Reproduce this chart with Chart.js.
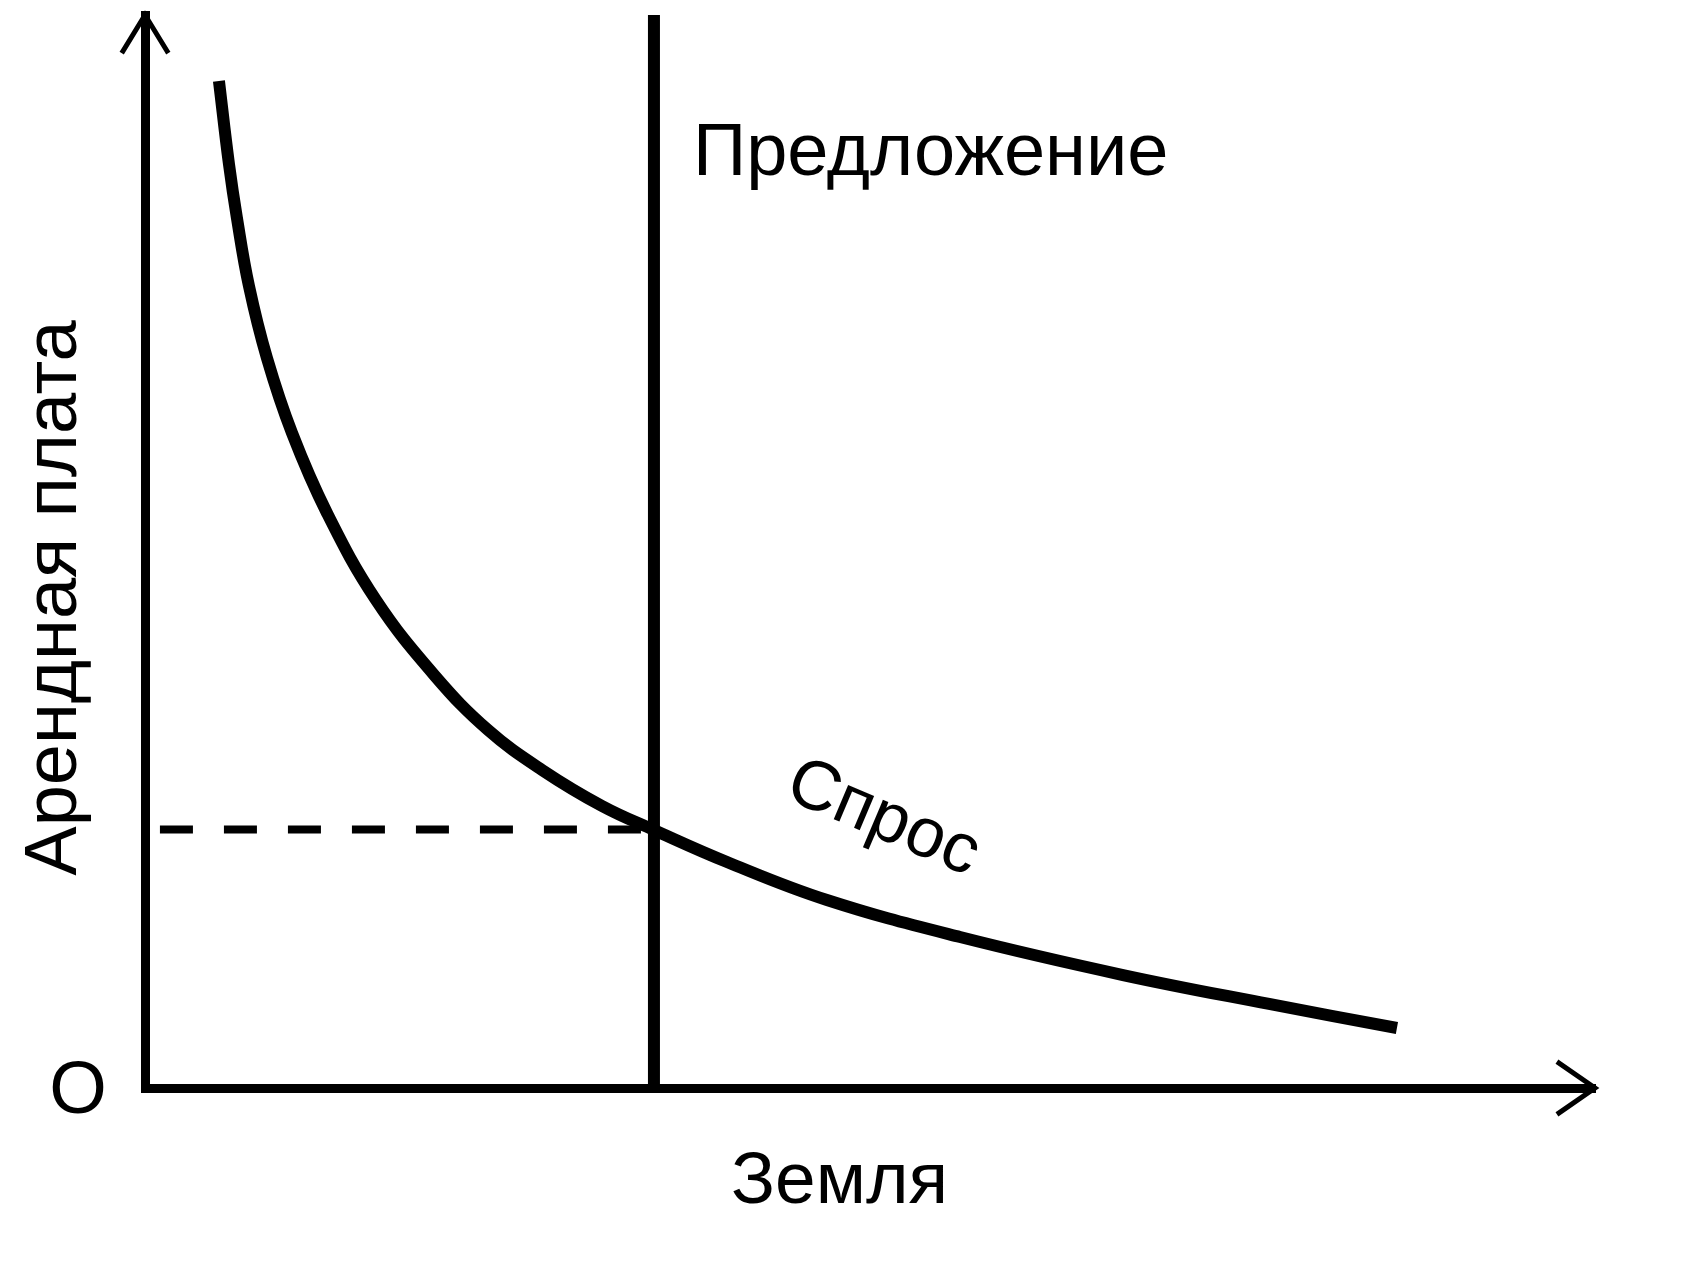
<!DOCTYPE html>
<html>
<head>
<meta charset="utf-8">
<script src="https://cdn.jsdelivr.net/npm/chart.js@4.4.0/dist/chart.umd.min.js"></script>
<style>
    html, body { margin: 0; padding: 0; background: #fff; }
    #wrap { width: 1693px; height: 1277px; position: relative; }
</style>
</head>
<body>
<div id="wrap"><canvas id="chart"></canvas></div>
<script>
// demand curve (land quantity vs rent)
const demandX = [5.1, 5.79, 6.34, 7.17, 8.41, 10.14, 12.55, 15.93, 20.0, 23.66, 27.38, 31.52, 35.1, 40.14, 47.03, 56.21, 67.45, 77.52, 86.34];
const demandY = [93.85, 86.11, 81.08, 74.74, 68.03, 61.04, 53.59, 45.48, 38.4, 33.36, 29.64, 26.28, 24.04, 21.06, 17.52, 14.07, 10.53, 7.83, 5.59];

// fixed supply of land
const supplyX = [35.1, 35.1];
const supplyY = [0, 100];

// equilibrium rent level
const rentX = [1.03, 35.1];
const rentY = [24.1, 24.1];

const labels = {
    supply: 'Предложение',
    demand: 'Спрос',
    xTitle: 'Земля',
    yTitle: 'Арендная плата',
    origin: 'O'
};

function toPoints(xs, ys) {
    return xs.map((x, i) => ({ x: x, y: ys[i] }));
}

const font = '"Liberation Sans", Arial, sans-serif';

const decorPlugin = {
    id: 'decor',
    afterDraw(chart) {
        const ctx = chart.ctx;
        const xs = chart.scales.x, ys = chart.scales.y;
        const x0 = xs.getPixelForValue(0), y0 = ys.getPixelForValue(0);
        const xEnd = xs.getPixelForValue(100), yEnd = ys.getPixelForValue(100);

        ctx.save();
        ctx.strokeStyle = '#000';
        ctx.lineWidth = 5;
        ctx.lineCap = 'square';
        // arrow heads
        ctx.beginPath();
        ctx.moveTo(x0 - 22, yEnd + 36);
        ctx.lineTo(x0, yEnd);
        ctx.lineTo(x0 + 22, yEnd + 36);
        ctx.moveTo(xEnd - 36, y0 - 25);
        ctx.lineTo(xEnd, y0);
        ctx.lineTo(xEnd - 36, y0 + 25);
        ctx.stroke();

        ctx.fillStyle = '#000';
        ctx.textBaseline = 'alphabetic';

        ctx.font = '74px ' + font;
        ctx.textAlign = 'left';
        ctx.fillText(labels.supply, 693, 175);

        ctx.font = '73px ' + font;
        ctx.fillText(labels.xTitle, 731, 1203);

        ctx.font = '74px ' + font;
        ctx.textAlign = 'center';
        ctx.textBaseline = 'middle';
        ctx.fillText(labels.origin, 78, 1093);

        ctx.save();
        ctx.translate(76, 598);
        ctx.rotate(-Math.PI / 2);
        ctx.font = '74px ' + font;
        ctx.textBaseline = 'alphabetic';
        ctx.fillText(labels.yTitle, 0, 0);
        ctx.restore();

        ctx.save();
        ctx.translate(883, 819);
        ctx.rotate(23 * Math.PI / 180);
        ctx.font = '70px ' + font;
        ctx.textBaseline = 'middle';
        ctx.fillText(labels.demand, 0, 0);
        ctx.restore();

        ctx.restore();
    }
};

new Chart(document.getElementById('chart'), {
    type: 'scatter',
    data: {
        datasets: [
            {
                label: labels.demand,
                data: toPoints(demandX, demandY),
                showLine: true,
                borderColor: '#000',
                borderWidth: 12,
                tension: 0.4,
                pointRadius: 0
            },
            {
                label: labels.supply,
                data: toPoints(supplyX, supplyY),
                showLine: true,
                borderColor: '#000',
                borderWidth: 12,
                pointRadius: 0
            },
            {
                label: 'rent',
                data: toPoints(rentX, rentY),
                showLine: true,
                borderColor: '#000',
                borderWidth: 8,
                borderDash: [33, 31],
                pointRadius: 0
            }
        ]
    },
    options: {
        responsive: true,
        maintainAspectRatio: false,
        animation: false,
        layout: { padding: { left: 145, right: 98, top: 15, bottom: 189 } },
        plugins: {
            legend: { display: false },
            tooltip: { enabled: false },
            title: { display: false }
        },
        scales: {
            x: {
                type: 'linear',
                min: 0,
                max: 100,
                grid: { display: false, drawTicks: false },
                ticks: { display: false },
                border: { display: true, color: '#000', width: 9 }
            },
            y: {
                type: 'linear',
                min: 0,
                max: 100,
                grid: { display: false, drawTicks: false },
                ticks: { display: false },
                border: { display: true, color: '#000', width: 9 }
            }
        }
    },
    plugins: [decorPlugin]
});
</script>
</body>
</html>
